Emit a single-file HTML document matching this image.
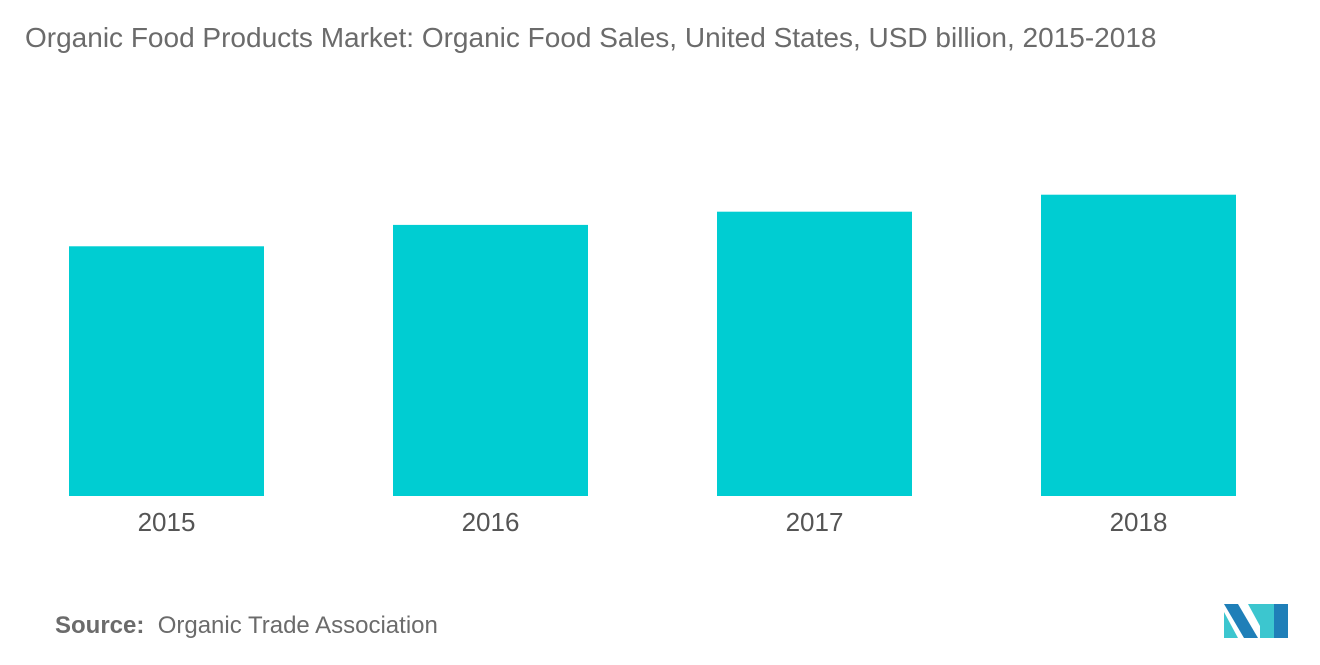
<!DOCTYPE html>
<html><head><meta charset="utf-8"><style>
body{margin:0;width:1320px;height:665px;background:#fff;overflow:hidden;font-family:"Liberation Sans",sans-serif;}
#title{position:absolute;left:25px;top:22px;font-size:28px;color:#6b6b6b;white-space:nowrap;}
#src{position:absolute;left:55px;top:612px;font-size:24px;color:#6b6b6b;}
</style></head><body>
<div id="title">Organic Food Products Market: Organic Food Sales, United States, USD billion, 2015-2018</div>
<svg id="chart" width="1320" height="665" style="position:absolute;left:0;top:0"></svg>
<div id="src"><b>Source:</b>&nbsp; Organic Trade Association</div>
<svg style="position:absolute;left:1224px;top:604px" width="66" height="34">
<polygon points="0,0 14,0 34,34 20,34" fill="#1f7fb8"/>
<polygon points="0,8 14,34 0,34" fill="#3cc6cf"/>
<polygon points="36,0 50,0 50,34 36,34" fill="#3cc6cf"/>
<polygon points="24,0 36,0 36,22" fill="#3cc6cf"/>
<polygon points="50,0 64,0 64,34 50,34" fill="#1f7fb8" transform="translate(0,0)"/>
</svg>
<script>
const categories=["2015","2016","2017","2018"];
const values=[39.7,43.1,45.2,47.9];
const svg=document.getElementById('chart');
const NS="http://www.w3.org/2000/svg";
const baseY=496, pxPer=6.29, x0=69, step=324, barW=195;
const y=v=>baseY-v*pxPer;
const x=i=>x0+i*step;
categories.forEach((c,i)=>{
 const r=document.createElementNS(NS,'rect');
 r.setAttribute('x',x(i));r.setAttribute('y',y(values[i]));
 r.setAttribute('width',barW);r.setAttribute('height',baseY-y(values[i]));
 r.setAttribute('fill','#00cdd2');
 
 
 svg.appendChild(r);
 const t=document.createElementNS(NS,'text');
 t.setAttribute('x',x(i)+barW/2);t.setAttribute('y',531);
 t.setAttribute('text-anchor','middle');t.setAttribute('font-size','26');
 t.setAttribute('fill','#555');t.setAttribute('font-family','Liberation Sans, sans-serif');
 t.textContent=c;
 
 
 svg.appendChild(t);
});
</script>
</body></html>
